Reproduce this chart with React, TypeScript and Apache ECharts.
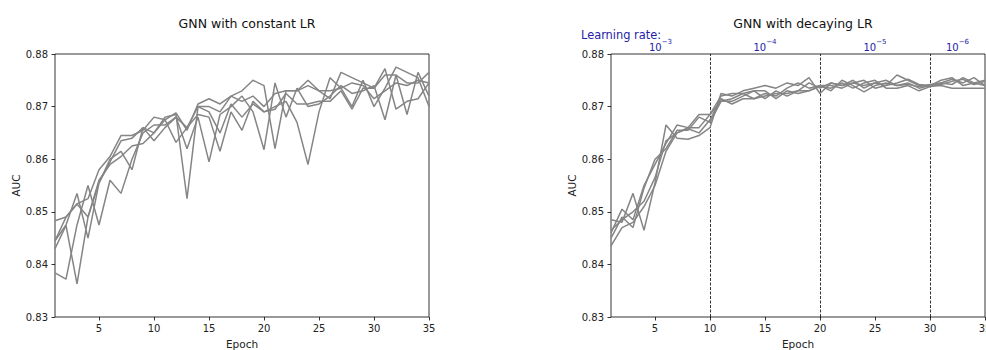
import React, { useEffect, useRef } from "react";
import * as echarts from "echarts";

const epochs: number[] = Array.from({ length: 35 }, (_, i) => i + 1);
const xTickValues = [5, 10, 15, 20, 25, 30, 35];

const constantRuns: number[][] = [
  [0.8483, 0.849, 0.8515, 0.8525, 0.858, 0.8605, 0.8645, 0.8645, 0.8655, 0.868, 0.8675, 0.8688, 0.8655, 0.8705, 0.8715, 0.8705, 0.872, 0.873, 0.875, 0.874, 0.862, 0.873, 0.873, 0.875, 0.873, 0.8715, 0.8765, 0.8755, 0.8745, 0.8735, 0.8772, 0.8695, 0.871, 0.8715, 0.8745],
  [0.8445, 0.8475, 0.8535, 0.845, 0.8555, 0.8595, 0.8635, 0.864, 0.866, 0.865, 0.868, 0.8685, 0.8525, 0.87, 0.869, 0.865, 0.8705, 0.868, 0.8705, 0.869, 0.87, 0.871, 0.867, 0.859, 0.869, 0.8755, 0.8735, 0.87, 0.875, 0.87, 0.8735, 0.8775, 0.8765, 0.8755, 0.87],
  [0.843, 0.8474, 0.8363, 0.849, 0.8555, 0.86, 0.8615, 0.858, 0.866, 0.8635, 0.866, 0.868, 0.862, 0.868, 0.8595, 0.8685, 0.87, 0.872, 0.869, 0.8618, 0.8745, 0.868, 0.8735, 0.87, 0.8705, 0.872, 0.874, 0.8725, 0.873, 0.874, 0.8675, 0.876, 0.8685, 0.8765, 0.872],
  [0.8384, 0.8372, 0.8475, 0.855, 0.8475, 0.856, 0.8535, 0.86, 0.865, 0.8665, 0.8665, 0.868, 0.866, 0.8685, 0.868, 0.8615, 0.869, 0.8655, 0.871, 0.869, 0.8695, 0.8725, 0.8705, 0.8705, 0.871, 0.871, 0.873, 0.8695, 0.8735, 0.8735, 0.876, 0.876, 0.8745, 0.8745, 0.8765],
  [0.8445, 0.849, 0.8515, 0.849, 0.856, 0.859, 0.8605, 0.8625, 0.863, 0.865, 0.8675, 0.8632, 0.866, 0.87, 0.87, 0.869, 0.872, 0.871, 0.872, 0.87, 0.8725, 0.873, 0.873, 0.874, 0.873, 0.873, 0.8735, 0.8745, 0.874, 0.8715, 0.873, 0.8745, 0.874, 0.875, 0.8745],
];

const decayingRuns: number[][] = [
  [0.8485, 0.848, 0.8535, 0.8465, 0.8555, 0.8665, 0.864, 0.8638, 0.8645, 0.866, 0.8725, 0.872, 0.873, 0.8735, 0.874, 0.8735, 0.8745, 0.874, 0.8755, 0.8725, 0.8745, 0.874, 0.875, 0.8735, 0.8745, 0.874, 0.876, 0.875, 0.874, 0.8738, 0.8745, 0.8752, 0.8745, 0.8755, 0.874],
  [0.846, 0.8505, 0.8485, 0.855, 0.859, 0.863, 0.8665, 0.866, 0.8685, 0.8685, 0.872, 0.8725, 0.8725, 0.8715, 0.8725, 0.872, 0.8735, 0.8745, 0.8735, 0.874, 0.873, 0.875, 0.874, 0.8728, 0.874, 0.8745, 0.874, 0.8745, 0.8735, 0.874, 0.875, 0.8755, 0.874, 0.8745, 0.875],
  [0.845, 0.849, 0.847, 0.8545, 0.86, 0.862, 0.8655, 0.8655, 0.868, 0.867, 0.871, 0.8715, 0.8725, 0.873, 0.8715, 0.873, 0.872, 0.873, 0.8745, 0.8735, 0.8745, 0.874, 0.8745, 0.875, 0.8735, 0.874, 0.8745, 0.8752, 0.8742, 0.874, 0.8742, 0.8748, 0.8752, 0.8742, 0.8748],
  [0.8435, 0.847, 0.848, 0.851, 0.855, 0.8615, 0.865, 0.866, 0.866, 0.8685, 0.871, 0.871, 0.872, 0.873, 0.873, 0.8715, 0.873, 0.8725, 0.873, 0.8738, 0.8735, 0.8745, 0.8735, 0.8745, 0.875, 0.8735, 0.8735, 0.874, 0.873, 0.8738, 0.874, 0.8735, 0.8735, 0.8735, 0.8735],
  [0.8465, 0.8485, 0.85, 0.852, 0.8565, 0.8635, 0.865, 0.8658, 0.865, 0.8675, 0.8715, 0.8705, 0.8715, 0.8715, 0.872, 0.8725, 0.8725, 0.873, 0.873, 0.874, 0.874, 0.8735, 0.8745, 0.874, 0.8745, 0.875, 0.874, 0.8742, 0.8738, 0.8742, 0.8745, 0.8742, 0.8755, 0.8745, 0.874],
];

const lrChangeEpochs = [10, 20, 30];
const lrLabelEpochs = [5.5, 15, 25, 32.5];
const lrExponents = ["\u22123", "\u22124", "\u22125", "\u22126"];

const FONT = "DejaVu Sans";
const LINE_COLOR = "#858585";
const LR_COLOR = "#2323a8";

function makeXAxis(gridIndex: number) {
  return {
    type: "value",
    gridIndex,
    min: 1,
    max: 35,
    name: "Epoch",
    nameLocation: "middle",
    nameGap: 21,
    nameTextStyle: { fontFamily: FONT, fontSize: 10.5, color: "#222" },
    axisLine: { show: false },
    axisTick: {
      show: true,
      inside: false,
      length: 3.5,
      customValues: xTickValues,
      lineStyle: { color: "#000", width: 0.8 },
    },
    axisLabel: {
      show: true,
      customValues: xTickValues,
      margin: 6,
      fontFamily: FONT,
      fontSize: 10,
      color: "#222",
      hideOverlap: false,
    },
    splitLine: { show: false },
  };
}

function makeYAxis(gridIndex: number) {
  return {
    type: "value",
    gridIndex,
    min: 0.83,
    max: 0.88,
    interval: 0.01,
    name: "AUC",
    nameLocation: "middle",
    nameGap: 34,
    nameRotate: 90,
    nameTextStyle: { fontFamily: FONT, fontSize: 10.5, color: "#222" },
    axisLine: { show: false },
    axisTick: {
      show: true,
      inside: false,
      length: 3.5,
      lineStyle: { color: "#000", width: 0.8 },
    },
    axisLabel: {
      margin: 7,
      fontFamily: FONT,
      fontSize: 10,
      color: "#222",
      formatter: (v: number) => v.toFixed(2),
    },
    splitLine: { show: false },
  };
}

export default function App() {
  const ref = useRef<HTMLDivElement>(null);

  useEffect(() => {
    if (!ref.current) return;
    const chart = echarts.init(ref.current, undefined, { renderer: "svg" });

    const series: any[] = [];
    constantRuns.forEach((run) => {
      series.push({
        type: "line",
        xAxisIndex: 0,
        yAxisIndex: 0,
        data: epochs.map((e, i) => [e, run[i]]),
        showSymbol: false,
        symbol: "none",
        lineStyle: { color: LINE_COLOR, width: 1.5 },
        itemStyle: { color: LINE_COLOR },
        z: 2,
      });
    });
    decayingRuns.forEach((run, k) => {
      const s: any = {
        type: "line",
        xAxisIndex: 1,
        yAxisIndex: 1,
        data: epochs.map((e, i) => [e, run[i]]),
        showSymbol: false,
        symbol: "none",
        lineStyle: { color: LINE_COLOR, width: 1.5 },
        itemStyle: { color: LINE_COLOR },
        z: 2,
      };
      if (k === 0) {
        s.markLine = {
          silent: true,
          symbol: "none",
          label: { show: false },
          lineStyle: { color: "#000", type: [3, 1.5], width: 0.8 },
          data: lrChangeEpochs.map((x) => ({ xAxis: x })),
          z: 1,
        };
      }
      series.push(s);
    });

    const gridCommon = {
      top: 54,
      bottom: 33,
      show: true,
      borderColor: "#000",
      borderWidth: 0.8,
      backgroundColor: "transparent",
      containLabel: false,
      outerBoundsMode: "none",
    };

    const option: any = {
      animation: false,
      backgroundColor: "#fff",
      title: [
        {
          text: "GNN with constant LR",
          left: 242,
          top: 12,
          textAlign: "center",
          textStyle: { fontFamily: FONT, fontSize: 12.5, fontWeight: "normal", color: "#111" },
        },
        {
          text: "GNN with decaying LR",
          left: 798,
          top: 12,
          textAlign: "center",
          textStyle: { fontFamily: FONT, fontSize: 12.5, fontWeight: "normal", color: "#111" },
        },
      ],
      grid: [
        { ...gridCommon, left: 55, right: 557 },
        { ...gridCommon, left: 611, right: 1 },
      ],
      xAxis: [
        makeXAxis(0),
        makeXAxis(1),
        {
          type: "value",
          gridIndex: 1,
          position: "top",
          min: 1,
          max: 35,
          axisLine: { show: false },
          axisTick: { show: false },
          splitLine: { show: false },
          axisLabel: {
            show: true,
            customValues: lrLabelEpochs,
            margin: 2,
            formatter: (v: number) => {
              const idx = lrLabelEpochs.indexOf(v);
              return idx >= 0 ? `{b|10}{s|${lrExponents[idx]}}` : "";
            },
            rich: {
              b: { fontFamily: FONT, fontSize: 10, color: LR_COLOR, lineHeight: 14, verticalAlign: "bottom" },
              s: { fontFamily: FONT, fontSize: 7, color: LR_COLOR, verticalAlign: "top", lineHeight: 14 },
            },
          },
        },
      ],
      yAxis: [makeYAxis(0), makeYAxis(1)],
      graphic: [
        {
          type: "text",
          left: 581,
          top: 29,
          style: {
            text: "Learning rate:",
            fontFamily: FONT,
            fontSize: 11.4,
            fill: LR_COLOR,
          },
        },
      ],
      series,
    };

    chart.setOption(option);
    return () => chart.dispose();
  }, []);

  return (
    <div
      ref={ref}
      style={{ position: "fixed", left: 0, top: 0, width: 986, height: 350, background: "#fff" }}
    />
  );
}
